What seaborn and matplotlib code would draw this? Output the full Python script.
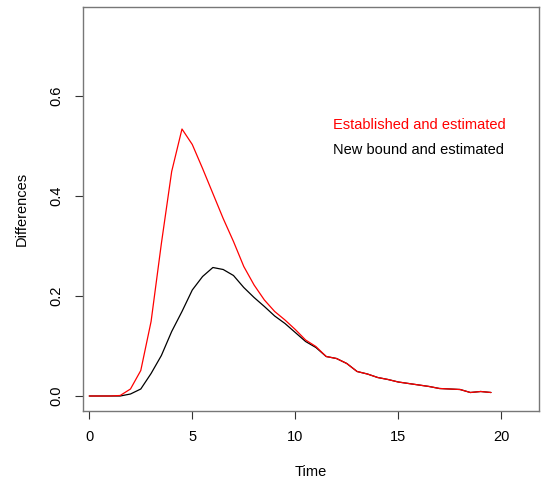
import matplotlib
matplotlib.use("Agg")
import matplotlib.pyplot as plt
import seaborn as sns
import pandas as pd

time = [0, 0.5, 1, 1.5, 2, 2.5, 3, 3.5, 4, 4.5, 5, 5.5, 6, 6.5, 7, 7.5, 8, 8.5, 9, 9.5,
        10, 10.5, 11, 11.5, 12, 12.5, 13, 13.5, 14, 14.5, 15, 15.5, 16, 16.5, 17, 17.5,
        18, 18.5, 19, 19.5]
established = [0, 0, 0, 0.001, 0.014, 0.051, 0.149, 0.305, 0.449, 0.534, 0.503, 0.455,
               0.405, 0.355, 0.309, 0.259, 0.222, 0.192, 0.169, 0.152, 0.133, 0.112,
               0.099, 0.079, 0.075, 0.065, 0.049, 0.044, 0.037, 0.033, 0.028, 0.025,
               0.022, 0.019, 0.015, 0.014, 0.013, 0.007, 0.009, 0.007]
new_bound = [0, 0, 0, 0, 0.004, 0.014, 0.045, 0.081, 0.129, 0.169, 0.212, 0.239,
             0.257, 0.253, 0.241, 0.217, 0.197, 0.179, 0.160, 0.145, 0.127, 0.109,
             0.097, 0.079, 0.075, 0.065, 0.049, 0.044, 0.037, 0.033, 0.028, 0.025,
             0.022, 0.019, 0.015, 0.014, 0.013, 0.007, 0.009, 0.007]
series_names = ["Established and estimated", "New bound and estimated"]
series_colors = ["#ff0000", "#000000"]
x_ticks = [0, 5, 10, 15, 20]
y_ticks = [0.0, 0.2, 0.4, 0.6]
y_tick_labels = ["0.0", "0.2", "0.4", "0.6"]

df = pd.DataFrame({
    "Time": time * 2,
    "Differences": established + new_bound,
    "Series": [series_names[0]] * len(time) + [series_names[1]] * len(time),
})

sns.set_theme(style="white")
plt.rcParams["font.family"] = ["Liberation Sans", "DejaVu Sans"]

fs = 10.5
fig = plt.figure(figsize=(5.47, 4.86), dpi=100)
ax = fig.add_axes([83.3 / 547, 1 - 410.7 / 486, (539 - 83.3) / 547, (410.7 - 7) / 486])

sns.lineplot(data=df, x="Time", y="Differences", hue="Series",
             palette=dict(zip(series_names, series_colors)),
             hue_order=[series_names[1], series_names[0]],
             linewidth=0.9, legend=False, ax=ax, estimator=None)

ax.set_xlim(-0.29, 21.83)
ax.set_ylim(-0.0294, 0.778)
ax.set_xticks(x_ticks)
ax.set_xticklabels([str(t) for t in x_ticks], fontsize=fs)
ax.set_yticks(y_ticks)
ax.set_yticklabels(y_tick_labels, fontsize=fs, rotation=90, va="center")
ax.tick_params(axis="both", direction="out", length=6, width=0.8, color="#333333",
               bottom=True, left=True, pad=8, labelcolor="black")
for s in ax.spines.values():
    s.set_color("#777777")
    s.set_linewidth(1.0)
    s.set_visible(True)

ax.set_xlabel("Time", fontsize=fs, labelpad=15, color="black")
ax.set_ylabel("Differences", fontsize=fs, labelpad=15, color="black")

ax.text(0.548, 0.708, series_names[0], transform=ax.transAxes, color=series_colors[0],
        fontsize=fs, ha="left", va="center")
ax.text(0.548, 0.646, series_names[1], transform=ax.transAxes, color=series_colors[1],
        fontsize=fs, ha="left", va="center")

fig.savefig("out.png", dpi=100, facecolor="white")
